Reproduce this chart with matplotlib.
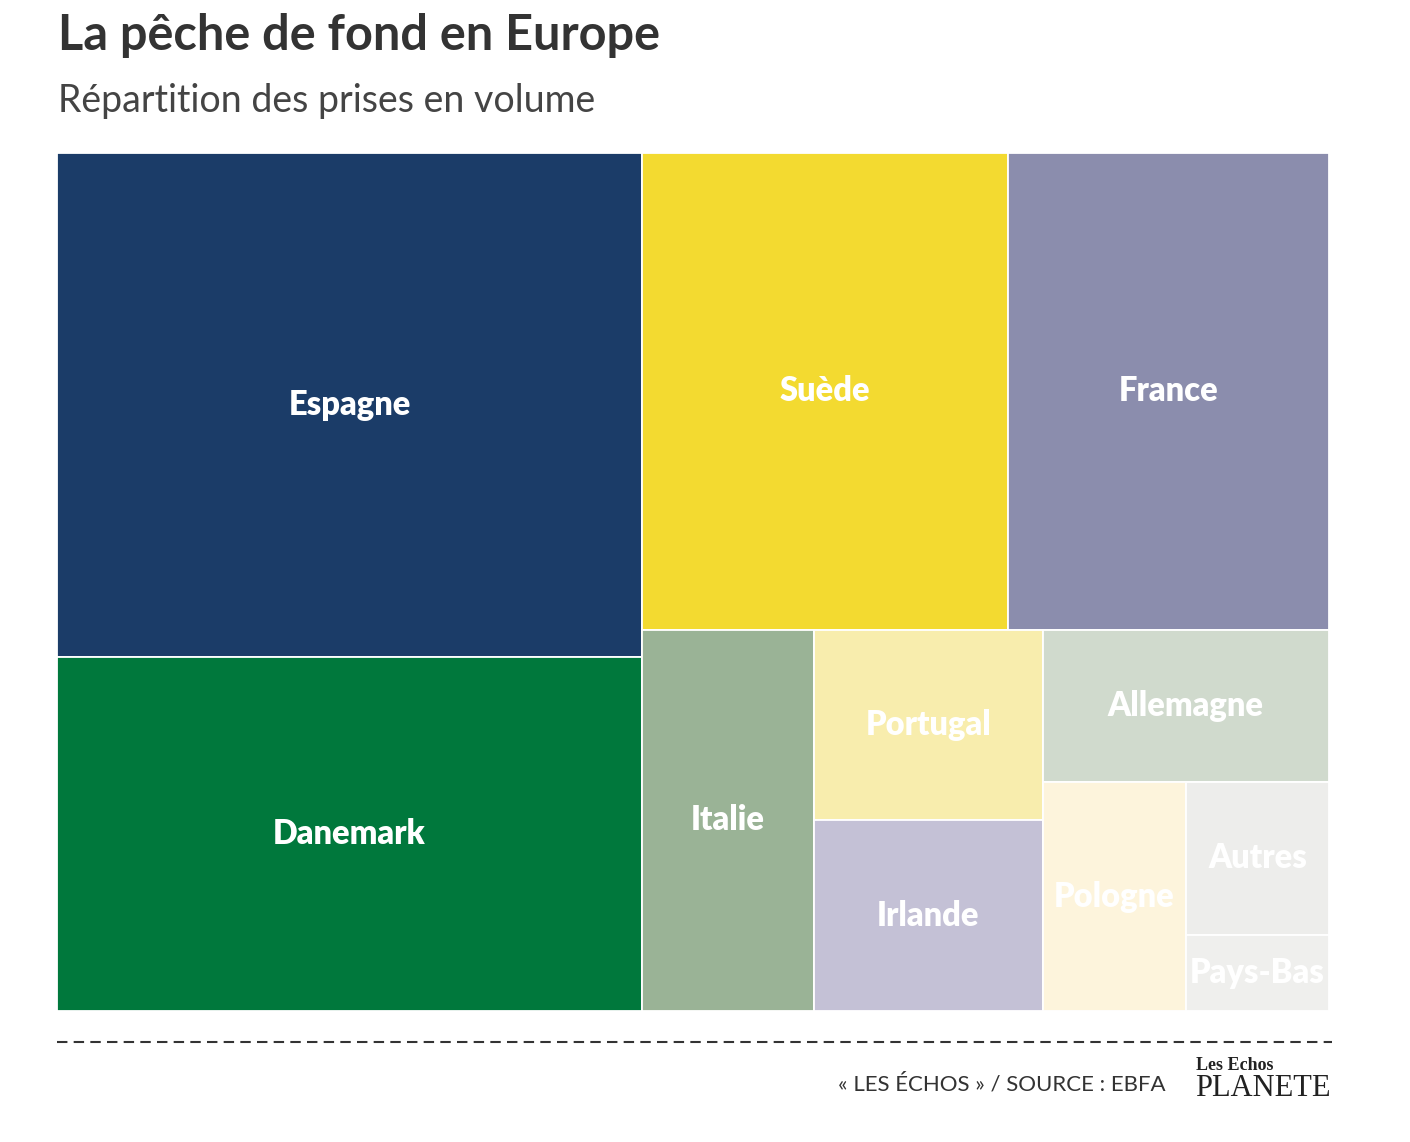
import matplotlib.pyplot as plt
from matplotlib.patches import Rectangle

# share of catches (volume, %)
countries = ["Espagne", "Danemark", "Suède", "France", "Italie", "Portugal",
             "Irlande", "Allemagne", "Pologne", "Autres", "Pays-Bas"]
shares = [27, 19, 16, 14, 6, 4, 4, 4, 3, 2, 1]
colors = ["#1b3c68", "#00783c", "#f3da30", "#8b8dad", "#9ab396", "#f8edad",
          "#c4c1d6", "#d0dacd", "#fdf4dc", "#ededeb", "#efefed"]

TITLE = "La pêche de fond en Europe"
SUBTITLE = "Répartition des prises en volume"
SOURCE = "« LES ÉCHOS » / SOURCE : EBFA"

W, H = 1272.0, 858.0  # layout box size (same aspect as the axes)


def binary_treemap(values, x0, y0, x1, y1):
    # same idea as d3.treemapBinary: split in two halves of about equal weight
    sums = [0]
    for v in values:
        sums.append(sums[-1] + v)
    rects = [None] * len(values)

    def partition(i, j, value, x0, y0, x1, y1):
        if i >= j - 1:
            rects[i] = (x0, y0, x1, y1)
            return
        offset = sums[i]
        target = value / 2 + offset
        k = i + 1
        hi = j - 1
        while k < hi:
            mid = (k + hi) // 2
            if sums[mid] < target:
                k = mid + 1
            else:
                hi = mid
        if (target - sums[k - 1]) < (sums[k] - target) and i + 1 < k:
            k -= 1
        left = sums[k] - offset
        right = value - left
        if (x1 - x0) > (y1 - y0):
            xk = (x0 * right + x1 * left) / value
            partition(i, k, left, x0, y0, xk, y1)
            partition(k, j, right, xk, y0, x1, y1)
        else:
            yk = (y0 * right + y1 * left) / value
            partition(i, k, left, x0, y0, x1, yk)
            partition(k, j, right, x0, yk, x1, y1)

    partition(0, len(values), sums[-1], x0, y0, x1, y1)
    return rects


fig = plt.figure(figsize=(14.1, 11.42), dpi=100)
fig.patch.set_facecolor("white")

ax = fig.add_axes([57 / 1410, 131 / 1142, 1272 / 1410, 858 / 1142])
ax.set_xlim(0, W)
ax.set_ylim(H, 0)
ax.axis("off")

rects = binary_treemap(shares, 0, 0, W, H)
for name, col, (x0, y0, x1, y1) in zip(countries, colors, rects):
    ax.add_patch(Rectangle((x0, y0), x1 - x0, y1 - y0, facecolor=col,
                           edgecolor="white", linewidth=1.3))
    ax.text((x0 + x1) / 2, (y0 + y1) / 2, name, ha="center", va="center",
            color="white", fontsize=23.5, fontweight="heavy", family="Lato")

fig.text(58 / 1410, 1 - 35 / 1142, TITLE, fontsize=35, fontweight="bold",
         color="#333333", family="Lato", va="center", ha="left")
fig.text(58 / 1410, 1 - 101 / 1142, SUBTITLE, fontsize=27,
         color="#444444", family="Lato", va="center", ha="left")

# dashed separator
fig.add_artist(plt.Line2D([57 / 1410, 1332 / 1410], [1 - 1042 / 1142, 1 - 1042 / 1142],
                          color="#333333", linewidth=1.5, linestyle=(0, (5, 3))))

fig.text(1166 / 1410, 1 - 1084 / 1142, SOURCE, fontsize=16, color="#333333",
         family="Lato", ha="right", va="center")
fig.text(1196 / 1410, 1 - 1066 / 1142, "Les Echos", fontsize=13, color="#222222",
         family="Liberation Serif", fontweight="bold", ha="left", va="center")
fig.text(1195 / 1410, 1 - 1088 / 1142, "PLANETE", fontsize=22, color="#222222",
         family="Liberation Serif", ha="left", va="center")

fig.savefig("out.png", dpi=100)
